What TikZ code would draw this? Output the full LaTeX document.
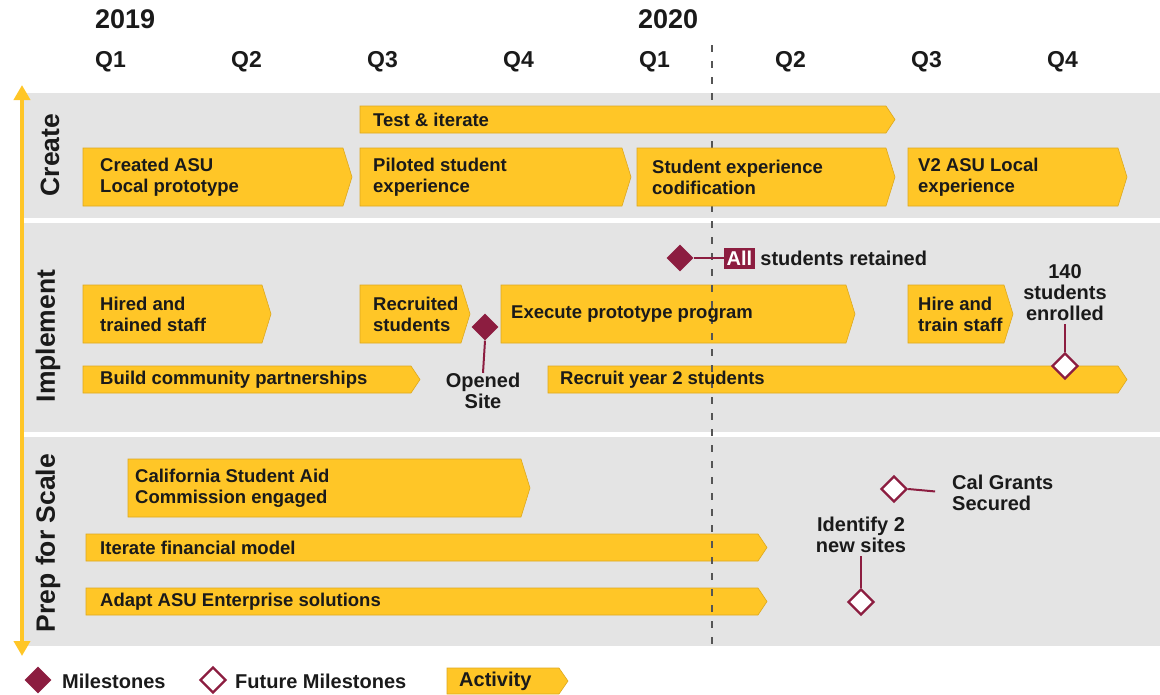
\documentclass[tikz,border=0pt]{standalone}
\usepackage{fontspec}
\setmainfont{Liberation Sans}
\usetikzlibrary{shapes.geometric,arrows.meta}
\definecolor{gold}{HTML}{FFC627}
\definecolor{goldedge}{HTML}{DDA81F}
\definecolor{maroon}{HTML}{8C1D40}
\definecolor{band}{HTML}{E4E4E4}
\definecolor{ink}{HTML}{1A1A1A}
\definecolor{dashc}{HTML}{555555}
\pgfdeclarelayer{back}\pgfdeclarelayer{dashlow}\pgfdeclarelayer{bars}\pgfdeclarelayer{dashl}
\pgfsetlayers{back,dashlow,bars,dashl,main}
\tikzset{
 bartext/.style={anchor=west, inner sep=0pt, align=left, text=ink, font=\bfseries\fontsize{18.5}{21}\selectfont},
 head/.style={anchor=base west, inner sep=0pt, text=ink, font=\bfseries\fontsize{23}{23}\selectfont},
 yearlbl/.style={anchor=base west, inner sep=0pt, text=ink, font=\bfseries\fontsize{27}{27}\selectfont},
 bandlbl/.style={rotate=90, inner sep=0pt, text=ink, font=\bfseries\fontsize{26.5}{27}\selectfont},
 mslbl/.style={inner sep=0pt, align=center, text=ink, font=\bfseries\fontsize{20}{21}\selectfont},
 msdone/.style={diamond, fill=maroon, minimum size=27pt, inner sep=0pt},
 msfut/.style={diamond, draw=maroon, line width=2.4pt, fill=white, minimum size=26pt, inner sep=0pt},
 msline/.style={draw=maroon, line width=2pt},
 barfill/.style={fill=gold, draw=goldedge, line width=0.6pt},
 todayline/.style={dashc, line width=1.3pt, dash pattern=on 7pt off 9pt},
}
% #1 name, #2 left x, #3 tip x, #4 top y, #5 bottom y, #6 text x, #7 text
\newcommand\actbar[7]{%
  \begin{pgfonlayer}{bars}
  \path[barfill] (#2,#4) -- ({#3-9},#4) -- (#3,{(#4+#5)/2}) -- ({#3-9},#5) -- (#2,#5) -- cycle;
  \end{pgfonlayer}
  \node[bartext] (#1) at (#6,{(#4+#5)/2}) {#7};
}
\begin{document}
\begin{tikzpicture}[x=1pt,y=-1pt]
\useasboundingbox (0,0) rectangle (1160,694);
% bands
\begin{pgfonlayer}{back}
\fill[band] (24,93) rectangle (1160,218);
\fill[band] (24,223) rectangle (1160,432);
\fill[band] (24,437) rectangle (1160,646);
\end{pgfonlayer}
% axis arrow
\coordinate (axtop) at (22,85);
\coordinate (axbot) at (22,656);
\draw[gold, line width=4.5pt, {Triangle[width=16pt,length=15pt]}-{Triangle[width=16pt,length=15pt]}] (axtop) -- (axbot);
% dashed today line (under the Create bars, over the others)
\coordinate (dtop) at (712,45);
\coordinate (dmid) at (712,221);
\coordinate (dbot) at (712,646);
\begin{pgfonlayer}{dashlow}
\draw[todayline] (dtop) -- (dmid);
\end{pgfonlayer}
\begin{pgfonlayer}{dashl}
\draw[todayline] (dmid) -- (dbot);
\end{pgfonlayer}
% headers
\node[yearlbl] (y19) at (95,28) {2019};
\node[yearlbl] (y20) at (638,28) {2020};
\node[head] (q1a) at (95,67) {Q1};
\node[head] (q2a) at (231,67) {Q2};
\node[head] (q3a) at (367,67) {Q3};
\node[head] (q4a) at (503,67) {Q4};
\node[head] (q1b) at (639,67) {Q1};
\node[head] (q2b) at (775,67) {Q2};
\node[head] (q3b) at (911,67) {Q3};
\node[head] (q4b) at (1047,67) {Q4};
% band labels
\node[bandlbl] (lc) at (50,155) {Create};
\node[bandlbl] (li) at (48,336) {Implement};
\node[bandlbl] (lp) at (48,543) {Prep for Scale};
% Create
\actbar{test}{360}{895}{106}{133}{373}{Test \& iterate}
\actbar{c1}{83}{352}{148}{206}{100}{Created ASU\\Local prototype}
\actbar{c2}{360}{631}{148}{206}{373}{Piloted student\\experience}
\actbar{c3}{637}{895}{148}{206}{652}{Student experience\\codification}
\actbar{c4}{908}{1127}{148}{206}{918}{V2 ASU Local\\experience}
% Implement
\actbar{i1}{83}{271}{285}{343}{100}{Hired and\\trained staff}
\actbar{i2}{360}{470}{285}{343}{373}{Recruited\\students}
\actbar{i3}{501}{855}{285}{343}{511}{Execute prototype program}
\actbar{i4}{908}{1013}{285}{343}{918}{Hire and\\train staff}
\actbar{i5}{83}{420}{366}{393}{100}{Build community partnerships}
\actbar{i6}{548}{1127}{366}{393}{560}{Recruit year 2 students}
% milestones implement
\node[msdone] (m1) at (680,258) {};
\node[fill=maroon, text=white, inner sep=0pt, minimum width=31pt, minimum height=21pt, font=\bfseries\fontsize{20}{21}\selectfont] (all) at (739.5,258) {All};
\node[mslbl, anchor=west] (ret) at ([xshift=5pt]all.east) {students retained};
\draw[msline] (m1.east) -- (all.west);
\node[msdone] (m2) at (485,327) {};
\node[mslbl] (opened) at (483,391) {Opened\\Site};
\draw[msline] (m2.south) -- (opened.north);
\node[msfut] (m3) at (1065,366) {};
\node[mslbl] (enr) at (1065,293) {140\\students\\enrolled};
\draw[msline, shorten >=3pt] (m3.north) -- (enr.south);
% Prep for scale
\actbar{p1}{128}{530}{459}{517}{135}{California Student Aid\\Commission engaged}
\actbar{p2}{86}{767}{534}{561}{100}{Iterate financial model}
\actbar{p3}{86}{767}{588}{615}{100}{Adapt ASU Enterprise solutions}
\node[msfut] (m4) at (894,489) {};
\node[mslbl, anchor=west, align=left] (cal) at (952,493) {Cal Grants\\Secured};
\draw[msline, shorten >=17pt] (m4.east) -- (cal.west);
\node[msfut] (m5) at (861,602) {};
\node[mslbl] (ident) at (861,535) {Identify 2\\new sites};
\draw[msline, shorten >=3pt] (m5.north) -- (ident.south);
% legend
\node[msdone] (lg1) at (38,680) {};
\node[mslbl, anchor=west] (lgt1) at (62,681) {Milestones};
\node[msfut] (lg2) at (213,680) {};
\node[mslbl, anchor=west] (lgt2) at (235,681) {Future Milestones};
\actbar{lg3}{447}{568}{668}{694}{459}{\fontsize{20}{21}\selectfont Activity}
\end{tikzpicture}
\end{document}
